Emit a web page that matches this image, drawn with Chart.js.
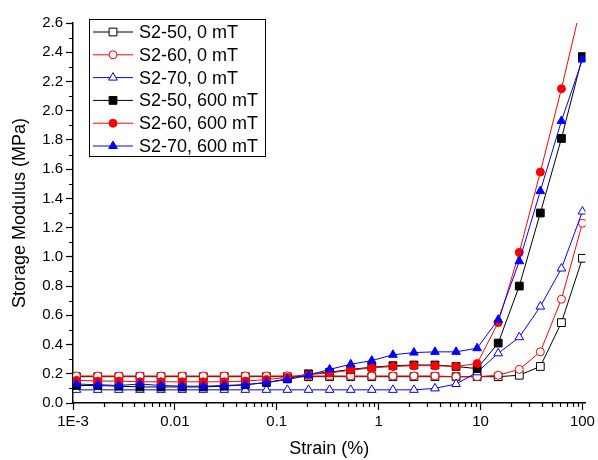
<!DOCTYPE html>
<html>
<head>
<meta charset="utf-8">
<script src="https://cdn.jsdelivr.net/npm/chart.js@4.4.0/dist/chart.umd.min.js"></script>
<style>
  html, body { margin: 0; padding: 0; background: #fff; }
  #chart { display: block; }
</style>
</head>
<body>
<canvas id="chart" width="598" height="460"></canvas>
<script>
// Strain sweep points (%)
const strain = [0.00108, 0.00175, 0.00282, 0.00454, 0.00731, 0.0118, 0.0190, 0.0305, 0.0491, 0.0791,
    0.127, 0.205, 0.330, 0.532, 0.856, 1.38, 2.22, 3.57, 5.75, 9.26,
    14.9, 24.0, 38.6, 62.2, 100];

// Storage modulus (MPa) for each sample
const s50_0 = [0.18, 0.18, 0.18, 0.18, 0.18, 0.18, 0.18, 0.18, 0.18, 0.18,
    0.18, 0.18, 0.18, 0.18, 0.18, 0.18, 0.18, 0.18, 0.18, 0.18,
    0.18, 0.19, 0.25, 0.55, 0.99];
const s60_0 = [0.185, 0.185, 0.185, 0.185, 0.185, 0.185, 0.185, 0.185, 0.185, 0.185,
    0.185, 0.185, 0.185, 0.185, 0.185, 0.185, 0.185, 0.185, 0.18, 0.18,
    0.19, 0.23, 0.35, 0.71, 1.23];
const s70_0 = [0.09, 0.09, 0.09, 0.09, 0.09, 0.09, 0.09, 0.09, 0.09, 0.09,
    0.09, 0.09, 0.09, 0.09, 0.09, 0.09, 0.09, 0.10, 0.13, 0.21,
    0.34, 0.45, 0.66, 0.92, 1.31];
const s50_600 = [0.12, 0.12, 0.115, 0.11, 0.11, 0.11, 0.11, 0.115, 0.125, 0.14,
    0.165, 0.2, 0.21, 0.23, 0.245, 0.255, 0.26, 0.26, 0.25, 0.235,
    0.41, 0.80, 1.30, 1.81, 2.37];
const s60_600 = [0.155, 0.15, 0.15, 0.145, 0.145, 0.145, 0.145, 0.145, 0.15, 0.16,
    0.175, 0.195, 0.205, 0.225, 0.24, 0.25, 0.255, 0.255, 0.25, 0.27,
    0.55, 1.03, 1.58, 2.15, 2.76];
const s70_600 = [0.13, 0.125, 0.12, 0.13, 0.12, 0.115, 0.115, 0.12, 0.125, 0.14,
    0.16, 0.19, 0.23, 0.265, 0.29, 0.33, 0.345, 0.35, 0.35, 0.375,
    0.57, 0.97, 1.45, 1.93, 2.35];

const labels = ['S2-50, 0 mT', 'S2-60, 0 mT', 'S2-70, 0 mT', 'S2-50, 600 mT', 'S2-60, 600 mT', 'S2-70, 600 mT'];
const series = [s50_0, s60_0, s70_0, s50_600, s60_600, s70_600];
const colors = ['#000000', '#ff0000', '#0000ff', '#000000', '#ff0000', '#0000ff'];
const styles = ['rect', 'circle', 'triangle', 'rect', 'circle', 'triangle'];
const filled = [false, false, false, true, true, true];

// x tick labels for the decades
const decadeLabels = { '-3': '1E-3', '-2': '0.01', '-1': '0.1', '0': '1', '1': '10', '2': '100' };

const FONT = "'Liberation Sans', Arial, sans-serif";

function markerRadius(style) {
    if (style === 'rect') return 5.5;
    if (style === 'circle') return 4;
    return 5;
}

const datasets = series.map((vals, i) => ({
    label: labels[i],
    data: strain.map((x, j) => ({ x: x, y: vals[j] })),
    borderColor: colors[i],
    backgroundColor: filled[i] ? colors[i] : '#ffffff',
    pointBorderColor: colors[i],
    pointBackgroundColor: filled[i] ? colors[i] : '#ffffff',
    pointStyle: styles[i],
    pointRadius: markerRadius(styles[i]),
    pointBorderWidth: 1,
    borderWidth: 1,
    tension: 0,
    order: series.length - i
}));

// Short minor ticks + boxed legend drawn on the canvas
const decorPlugin = {
    id: 'decor',
    afterDraw(chart) {
        const ctx = chart.ctx;
        const xs = chart.scales.x;
        const ys = chart.scales.y;
        const area = chart.chartArea;
        ctx.save();
        ctx.strokeStyle = '#000';
        ctx.lineWidth = 1.2;
        ctx.beginPath();
        for (let d = -3; d <= 2; d++) {
            for (let m = 2; m <= 9; m++) {
                const v = m * Math.pow(10, d);
                if (v > xs.max) continue;
                const px = Math.round(xs.getPixelForValue(v)) + 0.5;
                ctx.moveTo(px, area.bottom);
                ctx.lineTo(px, area.bottom + 4);
            }
        }
        for (let k = 1; k < 26; k += 2) {
            const py = Math.round(ys.getPixelForValue(k / 10)) + 0.5;
            ctx.moveTo(area.left, py);
            ctx.lineTo(area.left - 4, py);
        }
        ctx.stroke();

        // legend box
        ctx.lineWidth = 1;
        ctx.strokeRect(89.5, 19.5, 176, 137);
        ctx.font = '18px ' + FONT;
        ctx.textBaseline = 'middle';
        ctx.fillStyle = '#000';
        chart.data.datasets.forEach((ds, i) => {
            const y = 32 + i * 22.8;
            ctx.strokeStyle = ds.borderColor;
            ctx.beginPath();
            ctx.moveTo(93, y);
            ctx.lineTo(133, y);
            ctx.stroke();
            ctx.fillStyle = ds.pointBackgroundColor;
            ctx.strokeStyle = ds.pointBorderColor;
            Chart.helpers.drawPoint(ctx, {
                pointStyle: ds.pointStyle,
                radius: ds.pointRadius,
                borderWidth: 1,
                rotation: 0
            }, 113, y);
            ctx.fillStyle = '#000';
            ctx.fillText(ds.label, 139, y + 1);
        });
        ctx.restore();
    }
};

new Chart(document.getElementById('chart'), {
    type: 'line',
    data: { datasets: datasets },
    plugins: [decorPlugin],
    options: {
        responsive: false,
        animation: false,
        devicePixelRatio: 1,
        layout: { padding: { left: 0, right: 9, top: 23, bottom: 0 } },
        plugins: {
            legend: { display: false },
            tooltip: { enabled: false }
        },
        scales: {
            x: {
                type: 'logarithmic',
                min: 0.001,
                max: 107,
                afterFit(scale) { scale.height = 57; },
                afterBuildTicks(scale) {
                    scale.ticks = scale.ticks.filter(t => {
                        const l = Math.log10(t.value);
                        return Math.abs(l - Math.round(l)) < 1e-6;
                    });
                },
                border: { display: true, color: '#000', width: 1.5 },
                grid: { display: true, drawOnChartArea: false, drawTicks: true, tickLength: 7, tickColor: '#000', tickWidth: 1.2 },
                ticks: {
                    autoSkip: false,
                    maxRotation: 0,
                    padding: 3,
                    color: '#000',
                    font: { family: FONT, size: 15 },
                    callback: function(value) {
                        const l = Math.round(Math.log10(value));
                        return decadeLabels[String(l)] || '';
                    }
                },
                title: {
                    display: true,
                    text: 'Strain (%)',
                    color: '#000',
                    font: { family: FONT, size: 18 },
                    padding: { top: 0, bottom: 0 }
                }
            },
            y: {
                type: 'linear',
                min: 0,
                max: 2.6,
                afterFit(scale) { scale.width = 73; },
                border: { display: true, color: '#000', width: 1.5 },
                grid: { display: true, drawOnChartArea: false, drawTicks: true, tickLength: 7, tickColor: '#000', tickWidth: 1.2 },
                ticks: {
                    stepSize: 0.2,
                    padding: 3,
                    color: '#000',
                    font: { family: FONT, size: 15 },
                    callback: v => v.toFixed(1)
                },
                title: {
                    display: true,
                    text: 'Storage Modulus (MPa)',
                    color: '#000',
                    font: { family: FONT, size: 18 },
                    padding: { top: 9, bottom: 0 }
                }
            }
        }
    }
});
</script>
</body>
</html>
